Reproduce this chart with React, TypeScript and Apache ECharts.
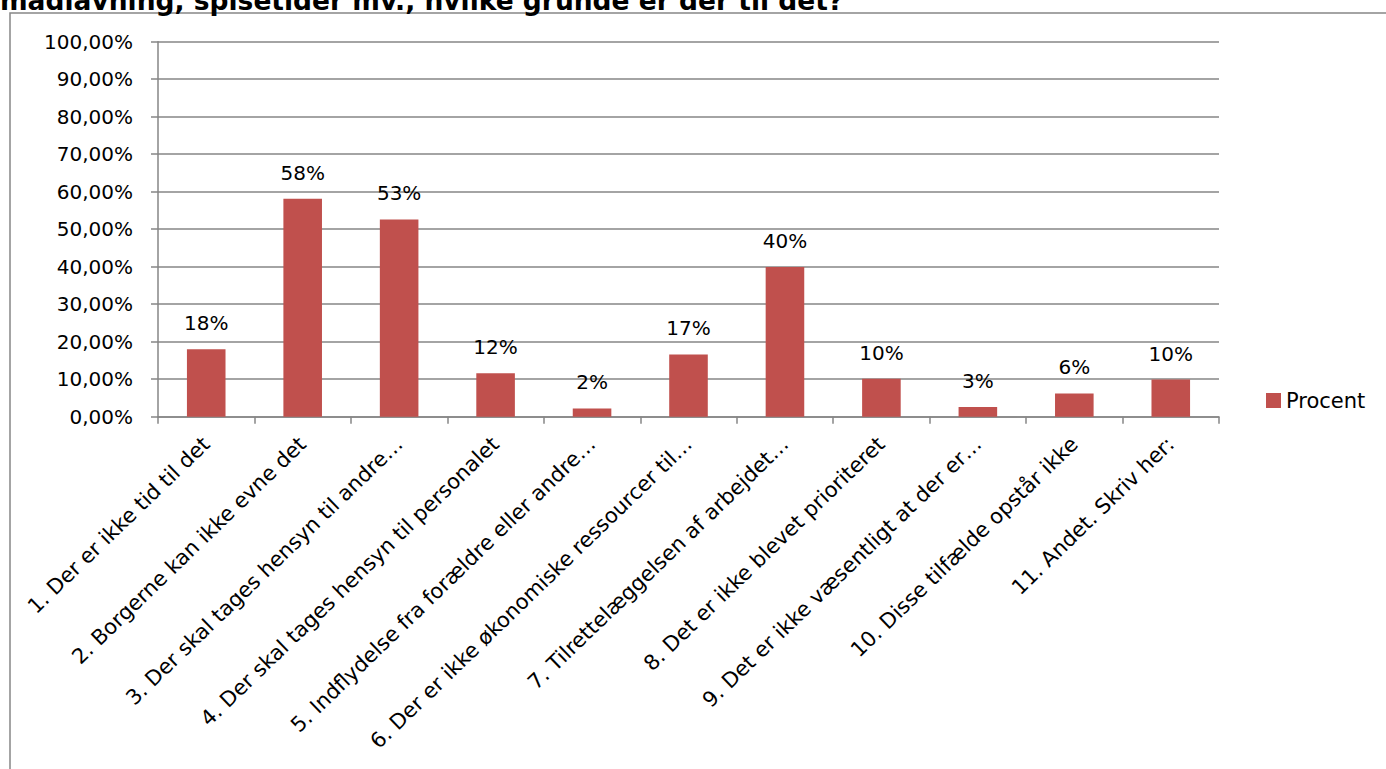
import React, { useEffect, useRef } from "react";
import * as echarts from "echarts";

const categories = [
  "1. Der er ikke tid til det",
  "2. Borgerne kan ikke evne det",
  "3. Der skal tages hensyn til andre…",
  "4. Der skal tages hensyn til personalet",
  "5. Indflydelse fra forældre eller andre…",
  "6. Der er ikke økonomiske ressourcer til…",
  "7. Tilrettelæggelsen af arbejdet…",
  "8. Det er ikke blevet prioriteret",
  "9. Det er ikke væsentligt at der er…",
  "10. Disse tilfælde opstår ikke",
  "11. Andet. Skriv her:",
];
const procent = [0.18, 0.581, 0.526, 0.116, 0.022, 0.166, 0.399, 0.101, 0.026, 0.062, 0.099];
const seriesName = "Procent";
const titleText = "madlavning, spisetider mv., hvilke grunde er der til det?";

const FONT = "DejaVu Sans";

export default function App() {
  const ref = useRef<HTMLDivElement>(null);
  useEffect(() => {
    if (!ref.current) return;
    const chart = echarts.init(ref.current, undefined, { renderer: "svg" });
    chart.setOption({
      animation: false,
      backgroundColor: "#ffffff",
      graphic: [
        {
          type: "rect",
          shape: { x: 10, y: 13, width: 1500, height: 900 },
          style: { fill: "none", stroke: "#878787", lineWidth: 1.5 },
          silent: true,
        },
        {
          type: "text",
          x: 0,
          y: 14,
          style: {
            text: titleText,
            font: `bold 26.5px "${FONT}"`,
            fill: "#000",
            verticalAlign: "bottom",
            align: "left",
          },
        },
      ],
      grid: {
        left: 158,
        right: 167,
        top: 41.7,
        bottom: 769 - 416.7,
        containLabel: false,
        outerBoundsMode: "none",
      },
      legend: {
        show: true,
        data: [seriesName],
        left: 1261,
        top: 385,
        icon: "rect",
        itemWidth: 15,
        itemHeight: 15,
        itemGap: 5,
        textStyle: { fontFamily: FONT, fontSize: 21, color: "#000" },
      },
      xAxis: {
        type: "category",
        data: categories,
        boundaryGap: true,
        axisLine: { show: true, lineStyle: { color: "#868686", width: 1.5 } },
        axisTick: { show: true, length: 7, alignWithLabel: false, lineStyle: { color: "#868686", width: 1.5 } },
        axisLabel: {
          interval: 0,
          rotate: 44,
          margin: 24,
          fontFamily: FONT,
          fontSize: 21,
          color: "#000",
          hideOverlap: false,
        },
      },
      yAxis: {
        type: "value",
        min: 0,
        max: 1,
        interval: 0.1,
        axisLine: { show: true, lineStyle: { color: "#868686", width: 1.5 } },
        axisTick: { show: true, length: 7, inside: false, lineStyle: { color: "#868686", width: 1.5 } },
        splitLine: { show: true, lineStyle: { color: "#868686", width: 1.5 } },
        axisLabel: {
          margin: 25,
          fontFamily: FONT,
          fontSize: 20,
          color: "#000",
          formatter: (v: number) => (v * 100).toFixed(2).replace(".", ",") + "%",
        },
      },
      series: [
        {
          name: seriesName,
          type: "bar",
          data: procent,
          barWidth: "40%",
          itemStyle: { color: "#C0504D" },
          label: {
            show: true,
            position: "top",
            distance: 16,
            fontFamily: FONT,
            fontSize: 20,
            color: "#000",
            formatter: (p: any) => Math.round(p.value * 100) + "%",
          },
        },
      ],
    });
    return () => chart.dispose();
  }, []);
  return (
    <div
      ref={ref}
      style={{ position: "fixed", left: 0, top: 0, width: 1386, height: 769, background: "#fff" }}
    />
  );
}
